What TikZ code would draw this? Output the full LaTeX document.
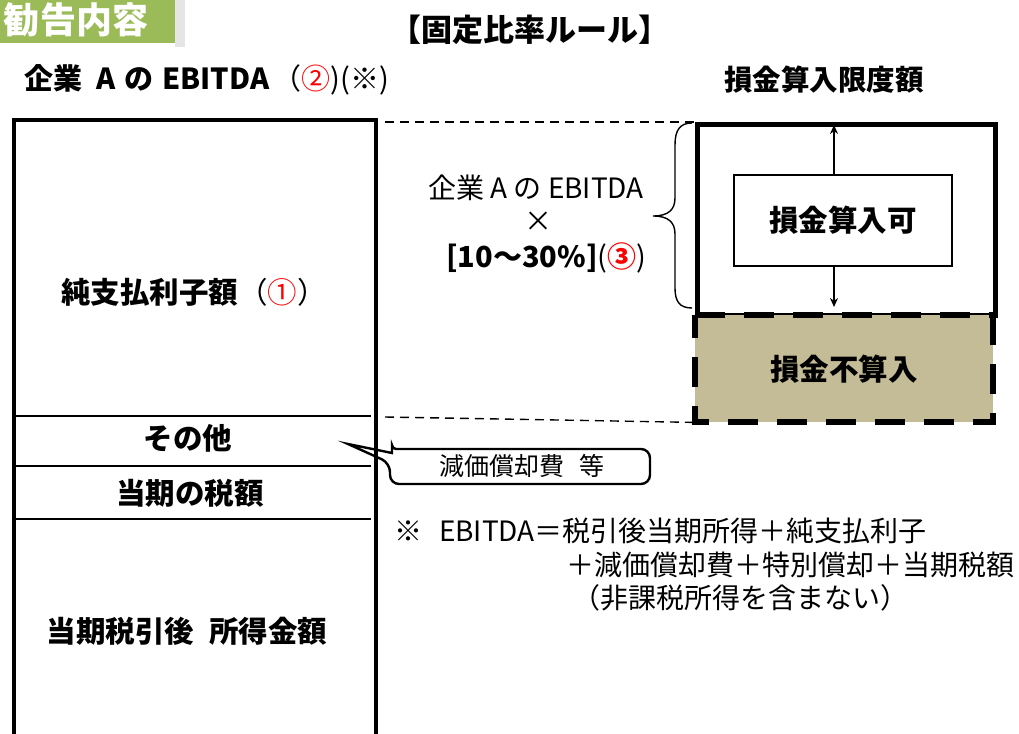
\documentclass[tikz,border=0pt]{standalone}
\usepackage{fontspec}
\setmainfont{Noto Sans CJK JP}
\newfontfamily\jp{Noto Sans CJK JP}
\usetikzlibrary{arrows.meta}
\definecolor{tabgreen}{HTML}{9BBB59}
\definecolor{khaki}{HTML}{C4BB97}
\begin{document}
\begin{tikzpicture}[x=1pt,y=-1pt,
  lbl/.style={font=\jp\fontsize{29.5}{32}\selectfont\bfseries, inner sep=0pt, anchor=center},
  txt/.style={font=\jp\fontsize{28}{32}\selectfont, inner sep=0pt},
  thinline/.style={line width=1.6pt},
  guide/.style={line width=1.4pt, dash pattern=on 9pt off 6pt},
  arr/.style={line width=1.6pt, -{Stealth[length=9pt,width=8pt]}}]
\useasboundingbox (0,0) rectangle (1019,733);
\fill[white] (0,0) rectangle (1019,733);
% tab
\fill[gray!20] (175,0) rectangle (185,47);
\node[fill=tabgreen, minimum width=175pt, minimum height=44pt, anchor=north west, inner sep=0pt] (tab) at (0,-1) {};
\node[font=\jp\fontsize{36}{40}\selectfont\bfseries, text=white, inner sep=0pt] (tabtxt) at (76,20) {勧告内容};
% titles
\node[inner sep=0pt, font=\jp\fontsize{31}{34}\selectfont\bfseries] (title) at (530,30) {【固定比率ルール】};
\node[inner sep=0pt, anchor=west] (ebitdatitle) at (24,80) {\jp\fontsize{29}{32}\selectfont\textbf{企業\hspace{0.5em}A\hspace{0.3em}の\hspace{0.3em}EBITDA}\hspace{0.1em}（\textcolor{red}{②})(※)};
\node[inner sep=0pt, font=\jp\fontsize{28.5}{32}\selectfont\bfseries] (gendo) at (824,80) {損金算入限度額};
% left column
\coordinate (lt) at (14,120);
\coordinate (rt) at (376,120);
\draw[line width=4pt] (14,740) -- (lt) -- (rt) -- (376,740);
\draw[thinline] (14,416) -- (371,416);
\draw[thinline] (14,466) -- (371,466);
\draw[thinline] (14,519) -- (371,519);
\node[lbl] (interest) at (194,292) {純支払利子額\textmd{（\textcolor{red}{①}）}};
\node[lbl] (other) at (188,438) {その他};
\node[lbl] (tax) at (190,493) {当期の税額};
\node[lbl] (income) at (187,631) {当期税引後\hspace{0.5em}所得金額};
% right boxes
\node[draw, line width=5pt, minimum width=298pt, minimum height=191pt, inner sep=0pt, anchor=north west] (limit) at (695,122) {};
\node[fill=khaki, minimum width=298pt, minimum height=107pt, inner sep=0pt, anchor=north west, draw=none] (noded) at (695,315) {};
\draw[line width=6pt, dash pattern=on 30pt off 19pt] (noded.north west) -- (noded.north east);
\draw[line width=6pt, dash pattern=on 30pt off 19pt] (noded.north east) -- (noded.south east) -- (noded.south west) -- (noded.north west);
\node[lbl] (nodedtxt) at (noded.center) {損金不算入};
\node[draw, line width=1.6pt, minimum width=218pt, minimum height=91pt, inner sep=0pt, anchor=north west, fill=white] (deductible) at (733,174) {};
\node[lbl] (dedtxt) at (deductible.center) {損金算入可};
\coordinate (uptop) at (834,125);
\coordinate (dnbot) at (834,307);
\draw[arr] (deductible.north -| uptop) -- (uptop);
\draw[arr] (deductible.south -| dnbot) -- (dnbot);
% guides
\draw[guide] (385,122) -- (limit.north west);
\draw[guide] (385,417) -- (noded.south west);
% brace
\coordinate (bt) at (692,123);
\coordinate (bb) at (692,308);
\coordinate (btip) at (653,216);
\draw[line width=1.4pt] (bt) .. controls (680,123) and (675,130) .. (675,145) -- (675,198)
  .. controls (675,210) and (668,216) .. (btip)
  .. controls (668,216) and (675,222) .. (675,234) -- (675,288)
  .. controls (675,302) and (680,308) .. (bb);
% middle formula
\node[txt] (m1) at (536,188) {企業 A の EBITDA};
\node[txt] (m2) at (538,222) {×};
\node[txt, anchor=west, font=\jp\fontsize{29}{32}\selectfont] (m3) at (446,258) {\textbf{[10～30\%]}(\textcolor{red}{\textbf{③}})};
% callout
\coordinate (tip) at (348,444);
\draw[line width=2.4pt, fill=white, rounded corners=9pt] (392,449) -- (650,449) -- (650,484) -- (390,484) -- (390,463) [sharp corners] -- (tip) -- (392,453) [rounded corners=4pt] -- (392,449) -- cycle;
\draw[line width=4pt] (376,420) -- (376,500);
\node[font=\jp\fontsize{25}{28}\selectfont, inner sep=0pt] (dep) at (522,466) {減価償却費\hspace{0.6em}等};
% note
\node[txt, anchor=west] (n1) at (394,531) {※\hspace{0.6em}EBITDA＝税引後当期所得＋純支払利子};
\node[txt, anchor=west] (n2) at (566,565) {＋減価償却費＋特別償却＋当期税額};
\node[txt, anchor=west] (n3) at (572,598) {（非課税所得を含まない）};
\end{tikzpicture}
\end{document}
